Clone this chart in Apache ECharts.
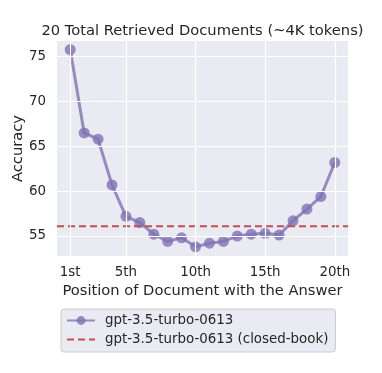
<!DOCTYPE html>
<html><head><meta charset="utf-8">
<script src="https://cdn.jsdelivr.net/npm/echarts@6/dist/echarts.min.js"></script>
<style>html,body{margin:0;padding:0;background:#fff}#c{width:382px;height:373px}</style>
</head><body><div id="c"></div>
<script>
const positions = [1,2,3,4,5,6,7,8,9,10,11,12,13,14,15,16,17,18,19,20];
const accuracy = [75.8,66.5,65.8,60.7,57.2,56.5,55.2,54.4,54.8,53.8,54.2,54.4,55.0,55.2,55.3,55.1,56.7,58.0,59.4,63.2];
const closedBook = 56.1;
const xTicks = [1,5,10,15,20];
const xTickLabels = ['1st','5th','10th','15th','20th'];
const yTicks = [55,60,65,70,75];
const seriesNames = ['gpt-3.5-turbo-0613','gpt-3.5-turbo-0613 (closed-book)'];

const font = 'DejaVu Sans';
const xMin = 0.05, xMax = 20.95;
const gridLines = xTicks.map(v=>({xAxis:v})).concat(yTicks.map(v=>({yAxis:v})));
const chart = echarts.init(document.getElementById('c'), null, {renderer:'canvas'});
chart.setOption({
  backgroundColor:'#ffffff',
  animation:false,
  title:{text:'20 Total Retrieved Documents (~4K tokens)', left:197.5, textAlign:'center', top:19,
    textStyle:{fontFamily:font, fontSize:14.7, fontWeight:'normal', color:'#262626'}},
  grid:{left:57, right:34, top:41, bottom:117, show:true, backgroundColor:'#EAEAF2', borderWidth:0,
    containLabel:false, outerBoundsMode:'none'},
  xAxis:{type:'value', min:xMin, max:xMax,
    name:'Position of Document with the Answer', nameLocation:'middle', nameGap:28, nameMoveOverlap:false,
    nameTextStyle:{fontFamily:font, fontSize:14.7, color:'#262626'},
    axisLine:{show:false}, axisTick:{show:false},
    axisLabel:{customValues:xTicks, fontFamily:font, fontSize:13.4, color:'#262626', margin:10,
      formatter:v=>xTickLabels[xTicks.indexOf(Math.round(v))]},
    splitLine:{show:false}},
  yAxis:{type:'value', min:52.77, max:76.75,
    name:'Accuracy', nameLocation:'middle', nameGap:31, nameRotate:90, nameMoveOverlap:false,
    nameTextStyle:{fontFamily:font, fontSize:14.7, color:'#262626'},
    axisLine:{show:false}, axisTick:{show:false},
    axisLabel:{customValues:yTicks, fontFamily:font, fontSize:13.4, color:'#262626', margin:11},
    splitLine:{show:false}},
  legend:{orient:'vertical', left:61, top:309, itemWidth:28, itemHeight:11, itemGap:6,
    padding:[5,7,6,5],
    backgroundColor:'#EAEAF2', borderColor:'#cccccc', borderWidth:1, borderRadius:3,
    textStyle:{fontFamily:font, fontSize:13.4, color:'#262626', padding:[0,0,0,5]},
    data:[{name:seriesNames[0]},{name:seriesNames[1], itemStyle:{opacity:0}}]},
  series:[
    {name:'grid', type:'line', data:[], silent:true, z:1,
      markLine:{silent:true, symbol:'none', label:{show:false}, animation:false,
        lineStyle:{color:'#ffffff', width:1.2, type:'solid'}, data:gridLines}},
    {name:seriesNames[1], type:'line', data:[[xMin,closedBook],[xMax,closedBook]], symbol:'none', z:3,
      lineStyle:{color:'#C44E52', width:2, type:[7,4]}, itemStyle:{color:'#C44E52'}},
    {name:seriesNames[0], type:'line', data:positions.map((p,i)=>[p,accuracy[i]]), symbol:'circle', symbolSize:11, z:2,
      lineStyle:{color:'#8172B3', width:3, opacity:0.8},
      itemStyle:{color:'#8172B3', opacity:0.8}}
  ]
});
</script></body></html>
